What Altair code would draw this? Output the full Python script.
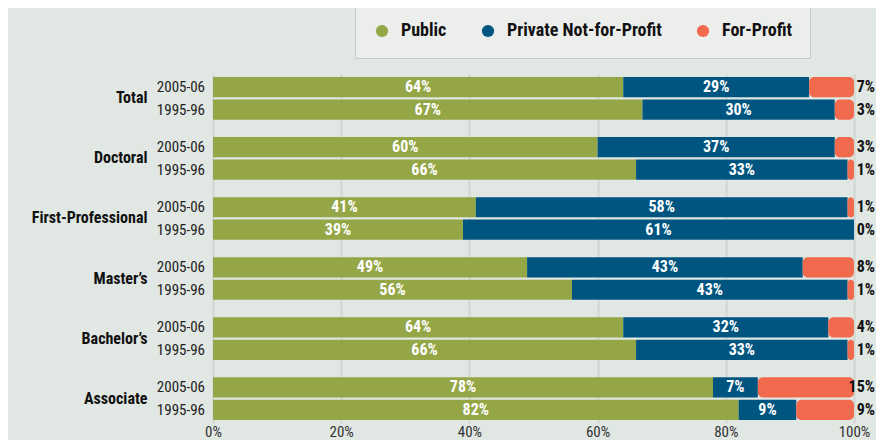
import altair as alt
import pandas as pd

categories = ["Total", "Doctoral", "First-Professional", "Master\u2019s", "Bachelor\u2019s", "Associate"]
periods = ["2005-06", "1995-96"]
types = ["Public", "Private Not-for-Profit", "For-Profit"]
colors = ["#94a646", "#005580", "#f26a4e"]

# values per (category, period) in order: 2005-06, 1995-96 for each category
public = [64, 67, 60, 66, 41, 39, 49, 56, 64, 66, 78, 82]
private = [29, 30, 37, 33, 58, 61, 43, 43, 32, 33, 7, 9]
forprofit = [7, 3, 3, 1, 1, 0, 8, 1, 4, 1, 15, 9]

rows = []
for i, c in enumerate(categories):
    for j, p in enumerate(periods):
        k = i * 2 + j
        s = 0
        for t, v in zip(types, [public[k], private[k], forprofit[k]]):
            rows.append(dict(category=c, period=p, type=t, value=v,
                             start=s, end=s + v, mid=s + v / 2, label=f"{v}%"))
            s += v
df = pd.DataFrame(rows)

FONT = "Roboto Condensed, Liberation Sans Narrow, DejaVu Sans Condensed, sans-serif"

y_enc = alt.Y("category:N", sort=categories,
              scale=alt.Scale(paddingInner=0.29, paddingOuter=0.05),
              axis=alt.Axis(title=None, domain=False, ticks=False, labelPadding=66,
                            labelFontSize=16, labelFontWeight="bold", labelColor="#111111",
                            labelFont=FONT, labelLimit=200))
yoff = alt.YOffset("period:N", sort=periods, scale=alt.Scale(paddingInner=0.1, paddingOuter=0))
x_enc = alt.X("start:Q", scale=alt.Scale(domain=[0, 100], nice=False),
              axis=alt.Axis(values=[0, 20, 40, 60, 80, 100], labelExpr="datum.value + '%'",
                            title=None, domain=False, ticks=False, grid=True,
                            gridColor="#d0d7d3", gridWidth=2, labelFontSize=15,
                            labelColor="#333333", labelPadding=1, labelFlush=False,
                            labelFont=FONT))
color_enc = alt.Color("type:N", scale=alt.Scale(domain=types, range=colors),
                      legend=alt.Legend(orient="none", legendX=142, legendY=-70,
                                        direction="horizontal", title=None,
                                        symbolType="circle", symbolSize=150,
                                        symbolOpacity=1, symbolStrokeWidth=0,
                                        labelFontSize=18, labelFontWeight="bold",
                                        labelFont=FONT, labelColor="#111111", labelLimit=240,
                                        columnPadding=32, labelOffset=10, padding=18,
                                        fillColor="#eceeec", strokeColor="#c3cac6"))

base = alt.Chart(df)

bars = base.transform_filter("datum.type != 'For-Profit'").mark_bar().encode(
    x=x_enc, x2="end:Q", y=y_enc, yOffset=yoff, color=color_enc)

fp_bars = base.transform_filter("datum.type == 'For-Profit' && datum.value > 0").mark_bar(
    cornerRadiusEnd=5).encode(x=x_enc, x2="end:Q", y=y_enc, yOffset=yoff, color=color_enc)

inner_text = base.transform_filter("datum.type != 'For-Profit'").mark_text(
    color="white", fontWeight="bold", fontSize=16, font=FONT).encode(
    x="mid:Q", y=y_enc, yOffset=yoff, text="label:N")

fp_text = base.transform_filter("datum.type == 'For-Profit'").mark_text(
    color="#111111", fontWeight="bold", fontSize=16, font=FONT, align="right", dx=21).encode(
    x=alt.datum(100), y=y_enc, yOffset=yoff, text="label:N")

period_text = base.transform_filter("datum.type == 'Public'").mark_text(
    color="#222222", fontSize=15, font=FONT, align="right", dx=-8).encode(
    x=alt.datum(0), y=y_enc, yOffset=yoff, text="period:N")

chart = alt.layer(bars, fp_bars, inner_text, fp_text, period_text).properties(
    width=641, height=349,
    autosize=alt.AutoSizeParams(type="none"),
    padding={"left": 205, "top": 66, "right": 22, "bottom": 17},
).configure(background="#e1e7e3").configure_view(stroke=None)

chart.save("out.html", embed_options={"renderer": "svg", "actions": False})
